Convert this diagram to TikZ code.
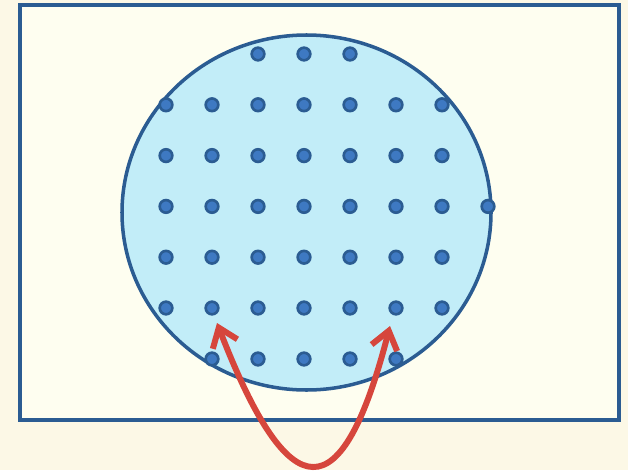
\documentclass[tikz,border=0pt]{standalone}
\usepackage{xcolor}
\usepackage{tikz}
\usetikzlibrary{arrows.meta, calc, shapes.geometric}

\definecolor{paper}{HTML}{FCF8E6}
\definecolor{boxfill}{HTML}{FEFEF0}
\definecolor{setblue}{HTML}{2B5C92}
\definecolor{setfill}{HTML}{C2EDF8}
\definecolor{dotfill}{HTML}{3E79C2}
\definecolor{arrowred}{HTML}{D6463C}

\tikzset{
  pt/.style={circle, draw=setblue, fill=dotfill, line width=1.5pt, inner sep=0pt, minimum size=7.2pt},
  jump/.style={arrowred, line width=3.4pt, line cap=round, {Straight Barb[length=10pt,width=15pt,line width=3.4pt]}-{Straight Barb[length=10pt,width=15pt,line width=3.4pt]}}
}

\begin{document}
\begin{tikzpicture}[x=0.02cm, y=-0.02cm]
  \fill[paper] (0,0) rectangle (628,470);
  \useasboundingbox (0,0) rectangle (628,470);

  % universe and set
  \node[draw=setblue, fill=boxfill, line width=2.2pt, rectangle, inner sep=0pt,
        minimum width=599*0.02cm, minimum height=415*0.02cm] (box) at (319.5,212.5) {};
  \node[draw=setblue, fill=setfill, line width=2pt, ellipse, inner sep=0pt,
        minimum width=369*0.02cm, minimum height=355*0.02cm] (set) at (306.5,212.5) {};

  % lattice points
  \foreach \k in {2,3,4} {
    \node[pt] (d-0-\k) at (166+46*\k,54) {};
  }
  \foreach \r in {1,...,5} {
    \foreach \k in {0,...,6} {
      \node[pt] (d-\r-\k) at (166+46*\k,54+50.8*\r) {};
    }
  }
  \node[pt] (d-3-7) at (166+46*7,54+50.8*3) {};
  \foreach \k in {1,...,5} {
    \node[pt] (d-6-\k) at (166+46*\k,359) {};
  }

  % swap arrow
  \coordinate (tipL) at ($(d-5-1)+(5,15)$);
  \coordinate (tipR) at ($(d-5-5)+(-6,18)$);
  \draw[jump] (tipL) .. controls (290,512) and (342,512) .. (tipR);
\end{tikzpicture}
\end{document}
